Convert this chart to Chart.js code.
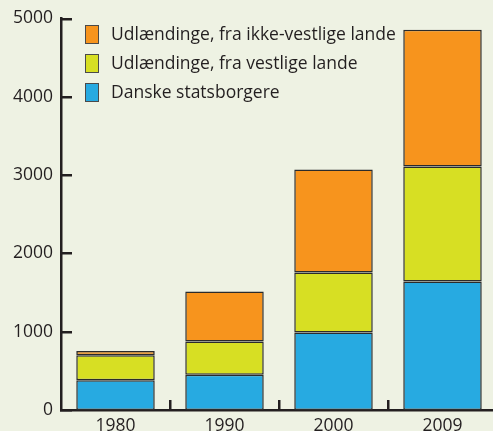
<!DOCTYPE html>
<html>
<head>
<meta charset="utf-8">
<script src="https://cdn.jsdelivr.net/npm/chart.js@4/dist/chart.umd.min.js"></script>
<style>
  html, body { margin: 0; padding: 0; overflow: hidden; background: #eef2e3; }
  #wrap { width: 497px; height: 431px; }
</style>
</head>
<body>
<div id="wrap"><canvas id="chart" width="497" height="431"></canvas></div>
<script>
// Data
const years = ['1980', '1990', '2000', '2009'];
const danske = [380, 450, 990, 1640];
const vestlige = [320, 425, 765, 1470];
const ikkeVestlige = [55, 640, 1315, 1745];

const ink = '#231f20';
const fontFamily = '"Open Sans", sans-serif';
const fontSize = 17.5;

// Draws the inward tick marks and the legend inside the plot
const decorations = {
    id: 'decorations',
    afterDraw(chart) {
        const ctx = chart.ctx;
        const area = chart.chartArea;
        const x = chart.scales.x;
        const y = chart.scales.y;
        ctx.save();
        ctx.fillStyle = ink;
        // y ticks pointing right
        y.ticks.forEach(t => {
            const py = Math.round(y.getPixelForValue(t.value));
            ctx.fillRect(area.left - 1, py - 1, 12, 2.5);
        });
        // x ticks between categories, pointing up
        for (let i = 1; i < years.length; i++) {
            const px = Math.round((x.getPixelForValue(i - 1) + x.getPixelForValue(i)) / 2);
            ctx.fillRect(px - 1, area.bottom - 10, 2.5, 10);
        }
        // legend, top series first
        const items = chart.data.datasets.slice().reverse();
        ctx.font = fontSize + 'px ' + fontFamily;
        ctx.textBaseline = 'middle';
        ctx.textAlign = 'left';
        items.forEach((ds, i) => {
            const top = 25 + i * 29;
            ctx.fillStyle = ds.backgroundColor;
            ctx.fillRect(85, top, 14, 19);
            ctx.lineWidth = 1;
            ctx.strokeStyle = '#4a4a4a';
            ctx.strokeRect(85.5, top + 0.5, 13, 18);
            ctx.fillStyle = ink;
            ctx.fillText(ds.label, 111, top + 10);
        });
        ctx.restore();
    }
};

new Chart(document.getElementById('chart'), {
    type: 'bar',
    data: {
        labels: years,
        datasets: [
            { label: 'Danske statsborgere', data: danske, backgroundColor: '#27aae1' },
            { label: 'Udlændinge, fra vestlige lande', data: vestlige, backgroundColor: '#d7df23' },
            { label: 'Udlændinge, fra ikke-vestlige lande', data: ikkeVestlige, backgroundColor: '#f7941d' }
        ]
    },
    options: {
        responsive: false,
        animation: false,
        layout: { padding: { top: 18, right: 0, left: 0, bottom: 0 } },
        datasets: {
            bar: {
                borderColor: '#2b2b2b',
                borderWidth: 1.5,
                borderSkipped: false,
                categoryPercentage: 0.72,
                barPercentage: 1
            }
        },
        plugins: {
            legend: { display: false },
            tooltip: { enabled: false }
        },
        scales: {
            x: {
                stacked: true,
                grid: { display: false, drawTicks: false },
                border: { display: true, color: ink, width: 2.5 },
                ticks: { color: ink, font: { family: fontFamily, size: fontSize }, padding: 6 },
                afterFit(scale) { scale.height = 21; }
            },
            y: {
                stacked: true,
                min: 0,
                max: 5000,
                grid: { display: false, drawTicks: false },
                border: { display: true, color: ink, width: 2.5 },
                ticks: {
                    stepSize: 1000,
                    color: ink,
                    padding: 8,
                    font: { family: fontFamily, size: fontSize },
                    callback: v => String(v)
                },
                afterFit(scale) { scale.width = 61; }
            }
        }
    },
    plugins: [decorations]
});
</script>
</body>
</html>
